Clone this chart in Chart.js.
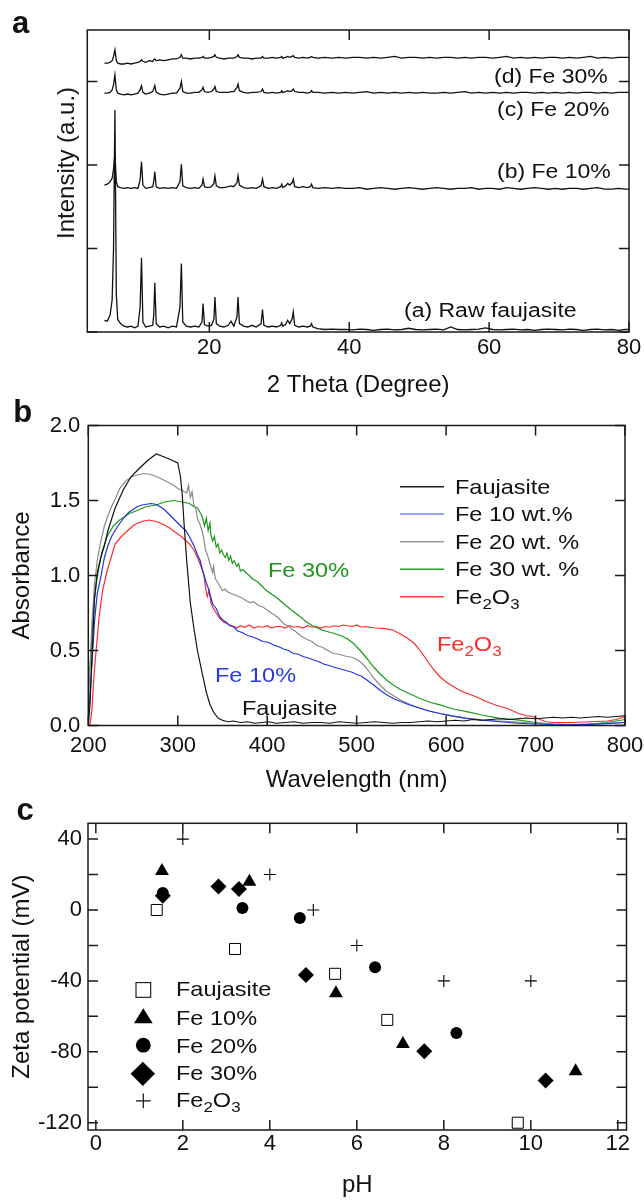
<!DOCTYPE html>
<html><head><meta charset="utf-8">
<script src="https://cdn.jsdelivr.net/npm/chart.js@4.4.1/dist/chart.umd.min.js"></script>
<style>
html,body{margin:0;padding:0;background:#fff;}
#page{position:relative;width:644px;height:1201px;overflow:hidden;font-family:'Liberation Sans',Arial,sans-serif;color:#111;}
#page canvas{position:absolute;left:0;}
.t{position:absolute;line-height:1;white-space:nowrap;transform-origin:0 0;}
.a20{font-size:20px;transform:scaleX(1.15);}
.a21{font-size:21px;transform:scaleX(1.12);}
.lt{font-size:31px;font-weight:bold;}
.s{font-size:72%;vertical-align:-0.3em;line-height:1;}
</style></head><body><div id="page">
<canvas id="ca" width="644" height="400" style="top:0px;width:644px;height:400px"></canvas>
<canvas id="cb" width="644" height="400" style="top:400px;width:644px;height:400px"></canvas>
<canvas id="cc" width="644" height="401" style="top:800px;width:644px;height:401px"></canvas>

<div class="t lt" style="left:12px;top:6.8px">a</div>
<div class="t lt" style="left:13.3px;top:395.5px">b</div>
<div class="t lt" style="left:16.4px;top:793.8px">c</div>

<div class="t a20" style="left:494px;top:66.4px">(d) Fe 30%</div>
<div class="t a20" style="left:496.7px;top:99.1px">(c) Fe 20%</div>
<div class="t a20" style="left:497px;top:161.4px">(b) Fe 10%</div>
<div class="t a20" style="left:404px;top:299.8px">(a) Raw faujasite</div>
<div class="t" style="left:65.6px;top:163.3px;font-size:24px;transform-origin:50% 50%;transform:translate(-50%,-50%) rotate(-90deg);">Intensity (a.u.)</div>

<div class="t a21" style="left:455px;top:475.5px">Faujasite</div>
<div class="t a21" style="left:455px;top:503.2px">Fe 10 wt.%</div>
<div class="t a21" style="left:455px;top:530.5px">Fe 20 wt. %</div>
<div class="t a21" style="left:455px;top:558.2px">Fe 30 wt. %</div>
<div class="t a21" style="left:455px;top:585.5px">Fe<span class="s">2</span>O<span class="s">3</span></div>

<div class="t a21" style="left:268.3px;top:558.9px;color:#1e961e">Fe 30%</div>
<div class="t a21" style="left:436.7px;top:633.2px;color:#ff2a2a">Fe<span class="s">2</span>O<span class="s">3</span></div>
<div class="t a21" style="left:215px;top:663.9px;color:#2a3ae0">Fe 10%</div>
<div class="t a21" style="left:241.7px;top:697.2px">Faujasite</div>

<div class="t a21" style="left:175.7px;top:978.2px">Faujasite</div>
<div class="t a21" style="left:175.7px;top:1007.2px">Fe 10%</div>
<div class="t a21" style="left:175.7px;top:1034.5px">Fe 20%</div>
<div class="t a21" style="left:175.7px;top:1062.2px">Fe 30%</div>
<div class="t a21" style="left:175.7px;top:1088.9px">Fe<span class="s">2</span>O<span class="s">3</span></div>

<svg width="644" height="1201" style="position:absolute;left:0;top:0;pointer-events:none">
  <g stroke-width="1.5">
    <line x1="400" y1="486.7" x2="444" y2="486.7" stroke="#222"/>
    <line x1="400" y1="514" x2="444" y2="514" stroke="#7088e8"/>
    <line x1="400" y1="541.7" x2="444" y2="541.7" stroke="#999"/>
    <line x1="400" y1="569.3" x2="444" y2="569.3" stroke="#22a022"/>
    <line x1="400" y1="596.7" x2="444" y2="596.7" stroke="#ff4040"/>
  </g>
  <rect x="136" y="982.6" width="14.7" height="14.7" fill="#fff" stroke="#111" stroke-width="1.1"/>
  <polygon points="143.3,1008.3 152.7,1023.3 134,1023.3" fill="#000"/>
  <circle cx="143.3" cy="1045.2" r="7.4" fill="#000"/>
  <polygon points="142.8,1061.7 155,1073.8 142.8,1086 130.6,1073.8" fill="#000"/>
  <path d="M136 1100.8 H150.7 M143.3 1093.4 V1108.2" stroke="#111" stroke-width="1.2"/>
</svg>
</div>
<script>
// ---------- Panel a: XRD ----------
const xrd2Theta = [5.0,5.4,5.8,6.1,6.3,6.5,6.7,6.9,7.3,7.8,
 8.3,8.8,9.3,9.8,10.1,10.3,10.5,10.9,11.4,11.9,
 12.05,12.2,12.4,12.9,13.5,14.1,14.7,15.3,15.8,16.0,
 16.2,16.7,17.3,17.9,18.5,18.95,19.1,19.3,19.8,20.3,
 20.65,20.8,21.0,21.5,22.1,22.7,23.1,23.5,23.95,24.1,
 24.3,24.9,25.5,26.1,26.7,27.4,27.6,27.8,28.4,29.0,
 29.6,30.2,30.35,30.5,30.9,31.2,31.5,31.85,32.0,32.2,
 32.8,33.4,34.0,34.45,34.6,34.8,35.5,36.5,37.5,38.5,
 39.5,40.5,41.5,42.5,43.5,44.5,45.5,46.5,47.5,48.5,
 49.5,50.5,51.5,52.5,53.5,54.5,55.5,56.5,57.5,58.5,
 59.5,60.5,61.5,62.5,63.5,64.5,65.5,66.5,67.5,68.5,
 69.5,70.5,71.5,72.5,73.5,74.5,75.5,76.5,77.5,78.5,
 79.5,80];
const xrdRaw = [0.14,0.13,0.2,0.38,1.0,2.66,0.45,0.15,0.1,0.07,
 0.06,0.07,0.05,0.07,0.3,0.89,0.12,0.06,0.07,0.08,
 0.2,0.59,0.1,0.06,0.07,0.05,0.07,0.06,0.3,0.82,
 0.12,0.07,0.06,0.07,0.06,0.12,0.34,0.09,0.07,0.08,
 0.15,0.42,0.1,0.07,0.06,0.08,0.13,0.07,0.18,0.42,
 0.1,0.07,0.06,0.08,0.06,0.1,0.27,0.08,0.06,0.07,
 0.06,0.08,0.11,0.07,0.09,0.14,0.1,0.16,0.24,0.08,
 0.06,0.07,0.06,0.07,0.1,0.06,0.04,0.03,0.035,0.03,
 0.03,0.025,0.035,0.03,0.02,0.03,0.035,0.025,0.03,0.045,
 0.03,0.025,0.03,0.035,0.025,0.06,0.03,0.025,0.03,0.035,
 0.05,0.03,0.025,0.03,0.035,0.025,0.03,0.02,0.03,0.035,
 0.03,0.025,0.035,0.03,0.02,0.03,0.035,0.025,0.03,0.02,
 0.03,0.03];
const xrdFe10 = [1.76,1.77,1.8,1.84,1.95,2.14,1.8,1.74,1.73,1.72,
 1.73,1.72,1.73,1.72,1.82,2.04,1.76,1.72,1.73,1.74,
 1.8,1.92,1.74,1.72,1.73,1.72,1.73,1.72,1.8,2.01,
 1.75,1.73,1.72,1.73,1.72,1.76,1.83,1.74,1.73,1.74,
 1.78,1.87,1.75,1.73,1.73,1.74,1.75,1.74,1.79,1.87,
 1.76,1.73,1.72,1.73,1.72,1.75,1.83,1.74,1.72,1.73,
 1.72,1.74,1.77,1.73,1.75,1.78,1.76,1.79,1.83,1.74,
 1.73,1.74,1.73,1.74,1.77,1.73,1.72,1.73,1.72,1.73,
 1.72,1.72,1.73,1.71,1.72,1.73,1.72,1.71,1.72,1.73,
 1.72,1.71,1.72,1.73,1.72,1.71,1.72,1.72,1.73,1.71,
 1.72,1.72,1.71,1.73,1.72,1.71,1.72,1.73,1.72,1.71,
 1.72,1.71,1.72,1.72,1.71,1.72,1.73,1.71,1.71,1.72,
 1.71,1.71];
const xrdFe20 = [2.86,2.86,2.87,2.9,2.96,3.08,2.9,2.86,2.85,2.84,
 2.85,2.84,2.85,2.86,2.9,2.95,2.87,2.85,2.86,2.88,
 2.91,2.95,2.87,2.85,2.84,2.85,2.86,2.86,2.92,3.0,
 2.88,2.86,2.86,2.87,2.87,2.9,2.93,2.88,2.87,2.88,
 2.91,2.94,2.88,2.87,2.87,2.87,2.88,2.88,2.93,2.97,
 2.89,2.87,2.86,2.87,2.87,2.88,2.91,2.87,2.86,2.87,
 2.86,2.87,2.89,2.87,2.88,2.89,2.88,2.89,2.91,2.88,
 2.87,2.87,2.86,2.87,2.89,2.87,2.87,2.86,2.87,2.86,
 2.87,2.86,2.87,2.88,2.86,2.87,2.86,2.87,2.86,2.87,
 2.86,2.87,2.86,2.86,2.87,2.86,2.87,2.88,2.86,2.87,
 2.86,2.87,2.86,2.87,2.86,2.87,2.87,2.86,2.87,2.86,
 2.87,2.86,2.87,2.86,2.87,2.87,2.86,2.87,2.86,2.87,
 2.87,2.87];
const xrdFe30 = [3.22,3.22,3.23,3.25,3.3,3.38,3.25,3.22,3.21,3.21,
 3.22,3.21,3.22,3.23,3.24,3.26,3.24,3.23,3.25,3.24,
 3.26,3.27,3.25,3.26,3.25,3.26,3.27,3.27,3.29,3.32,
 3.28,3.28,3.27,3.28,3.28,3.29,3.3,3.28,3.28,3.29,
 3.3,3.32,3.29,3.28,3.27,3.28,3.28,3.28,3.3,3.32,
 3.29,3.28,3.28,3.27,3.28,3.28,3.3,3.28,3.28,3.29,
 3.28,3.29,3.3,3.28,3.29,3.3,3.29,3.3,3.31,3.29,
 3.28,3.29,3.28,3.29,3.3,3.29,3.28,3.29,3.28,3.29,
 3.28,3.29,3.29,3.28,3.29,3.28,3.29,3.3,3.28,3.29,
 3.29,3.28,3.29,3.28,3.29,3.29,3.28,3.29,3.28,3.29,
 3.29,3.28,3.29,3.3,3.28,3.29,3.28,3.29,3.28,3.29,
 3.29,3.28,3.29,3.28,3.29,3.3,3.28,3.29,3.28,3.29,
 3.29,3.29];

// ---------- Panel b: UV-vis ----------
const fauWl = [200,202,204,207,210,214,218,222,230,239,248,258,267,276,285,293,300,303,305,307,
 310,314,318,322,328,332,336,340,345,350,356,362,370,378,386,394,402,410,420,430,
 440,450,460,470,480,490,500,510,520,530,540,550,560,570,580,590,600,610,620,630,
 640,650,660,670,680,690,700,710,720,730,740,750,760,770,780,790,800];
const fauAbs = [0.0,0.15,0.45,0.85,1.02,1.12,1.2,1.3,1.45,1.57,1.66,1.72,1.77,1.81,1.79,1.77,1.75,1.66,1.54,1.35,
 1.1,0.82,0.65,0.5,0.33,0.22,0.14,0.09,0.05,0.035,0.025,0.03,0.02,0.025,0.015,0.02,0.025,0.015,0.02,0.025,
 0.015,0.02,0.02,0.015,0.025,0.02,0.015,0.02,0.025,0.02,0.015,0.02,0.02,0.025,0.03,0.025,0.03,0.035,0.03,0.04,
 0.035,0.04,0.045,0.04,0.045,0.05,0.045,0.05,0.055,0.05,0.055,0.05,0.055,0.06,0.055,0.06,0.065];
const fe10Wl = [200,202,204,207,210,214,218,222,226,232,239,245,250,255,260,265,270,275,280,285,
 290,295,300,305,309,313,318,322,325,328,332,335,339,343,347,351,354,358,362,367,
 372,378,384,390,395,401,407,413,418,424,429,435,440,446,452,458,463,469,474,480,
 489,495,500,505,511,519,526,534,541,549,560,571,582,593,608,623,640,660,680,700,
 720,740,760,780,800];
const fe10Abs = [0.05,0.2,0.4,0.7,0.88,0.99,1.12,1.2,1.26,1.32,1.38,1.42,1.44,1.46,1.47,1.475,1.48,1.475,1.46,1.44,
 1.41,1.38,1.35,1.32,1.3,1.26,1.2,1.14,1.1,1.03,0.95,0.9,0.81,0.78,0.725,0.7,0.69,0.665,0.66,0.63,
 0.62,0.6,0.59,0.575,0.56,0.555,0.537,0.525,0.51,0.5,0.48,0.475,0.46,0.45,0.437,0.425,0.41,0.4,0.39,0.38,
 0.365,0.355,0.34,0.33,0.305,0.27,0.235,0.203,0.18,0.16,0.135,0.115,0.095,0.08,0.062,0.048,0.035,0.025,0.015,0.01,
 0.005,0.005,0.008,0.012,0.02];
const fe20Wl = [200,202,204,207,210,214,218,222,226,231,235,242,249,255,262,269,276,283,290,296,
 300,304,307,310,312,314,316,318,320,322,325,327,329,331,333,335,337,339,340,342,
 345,348,350,353,356,360,364,368,372,377,381,385,390,395,400,406,412,418,424,431,
 437,444,450,455,462,468,474,480,489,495,500,505,510,515,520,527,534,541,549,560,
 571,582,593,608,623,640,660,680,700,720,740,760,780,800];
const fe20Abs = [0.1,0.4,0.68,0.95,1.1,1.23,1.33,1.4,1.46,1.52,1.58,1.63,1.66,1.67,1.68,1.675,1.66,1.64,1.62,1.6,
 1.58,1.57,1.56,1.55,1.6,1.52,1.56,1.47,1.45,1.38,1.34,1.3,1.25,1.17,1.14,1.1,1.06,1.02,1.06,0.98,
 0.95,0.92,0.9,0.91,0.89,0.88,0.87,0.86,0.85,0.83,0.82,0.825,0.8,0.79,0.77,0.745,0.72,0.68,0.66,0.63,
 0.6,0.575,0.56,0.535,0.52,0.5,0.48,0.475,0.46,0.455,0.44,0.42,0.39,0.35,0.31,0.265,0.225,0.2,0.17,0.14,
 0.115,0.095,0.08,0.062,0.048,0.038,0.03,0.022,0.015,0.01,0.008,0.01,0.015,0.02];
const fe30Wl = [200,202,205,207,210,215,221,228,235,245,253,265,276,285,295,305,313,318,322,326,
 328,330,332,334,336,337,339,341,343,345,347,349,351,353,355,357,359,361,363,366,
 368,370,373,376,380,384,389,394,399,404,410,418,427,437,444,452,462,474,482,489,
 496,504,511,519,526,534,541,549,560,571,582,593,608,623,640,660,680,700,720,740,
 760,780,800];
const fe30Abs = [0.35,0.39,0.7,0.85,0.99,1.15,1.26,1.33,1.37,1.41,1.43,1.46,1.47,1.49,1.5,1.49,1.48,1.46,1.45,1.41,
 1.38,1.33,1.38,1.3,1.35,1.27,1.23,1.26,1.19,1.21,1.15,1.17,1.14,1.12,1.15,1.1,1.13,1.08,1.1,1.06,
 1.08,1.03,1.04,1.02,1.0,0.975,0.96,0.93,0.9,0.88,0.855,0.815,0.77,0.725,0.69,0.66,0.635,0.615,0.6,0.58,
 0.55,0.5,0.45,0.39,0.345,0.3,0.27,0.24,0.21,0.18,0.155,0.137,0.11,0.092,0.07,0.048,0.037,0.02,0.01,0.005,
 0.01,0.02,0.04];
const fe2o3Wl = [200,202,204,206,208,212,216,221,226,230,237,244,252,260,268,276,284,290,297,304,
 313,318,322,326,329,331,333,335,337,339,343,347,351,355,358,362,366,370,375,380,
 385,390,395,400,405,410,415,420,425,430,435,440,445,450,455,460,465,470,475,480,
 485,490,495,500,505,510,515,520,530,541,549,556,564,571,578,585,593,600,608,615,
 623,634,645,656,668,681,690,697,705,712,720,740,760,780,790,800];
const fe2o3Abs = [0.0,0.01,0.1,0.3,0.45,0.72,0.9,1.03,1.13,1.21,1.26,1.3,1.34,1.36,1.37,1.36,1.34,1.32,1.29,1.26,
 1.21,1.17,1.12,1.06,1.01,0.92,0.86,0.9,0.82,0.79,0.75,0.715,0.69,0.68,0.67,0.663,0.65,0.665,0.655,0.67,
 0.65,0.66,0.655,0.665,0.65,0.66,0.66,0.65,0.665,0.655,0.66,0.65,0.665,0.655,0.66,0.65,0.66,0.655,0.665,0.66,
 0.67,0.665,0.66,0.67,0.655,0.66,0.655,0.65,0.648,0.635,0.61,0.585,0.55,0.5,0.44,0.38,0.325,0.29,0.26,0.235,
 0.215,0.19,0.16,0.135,0.115,0.08,0.065,0.06,0.04,0.025,0.02,0.02,0.025,0.03,0.04,0.06];

// ---------- Panel c: zeta potential ----------
const fauPH = [1.4, 3.2, 5.5, 6.7, 9.7];
const fauZeta = [0, -22, -36, -62, -120];
const fe10PH = [1.52, 3.53, 5.52, 7.06, 11.03];
const fe10Zeta = [22, 16, -47, -75.6, -91];
const fe20PH = [1.54, 3.37, 4.69, 6.42, 8.29];
const fe20Zeta = [9.6, 1.1, -4.5, -32.3, -69.4];
const fe30PH = [1.54, 2.82, 3.29, 4.83, 7.55, 10.34];
const fe30Zeta = [8.1, 13.2, 11.9, -36.7, -79.7, -96.2];
const fe2o3PH = [2, 4, 5, 6, 8, 10];
const fe2o3Zeta = [40, 20, 0, -20, -40, -40];

// ---------- helpers ----------
const FONT = "'Liberation Sans', Arial, sans-serif";
const pts = (xs, ys) => xs.map((x, i) => ({x: x, y: ys[i]}));
const line = (xs, ys, color, w) => ({data: pts(xs, ys), borderColor: color, borderWidth: w, pointRadius: 0, fill: false, tension: 0});

const frame = {
  id: 'frame',
  afterDatasetsDraw(chart) {
    const {ctx, chartArea: a, scales: {x, y}} = chart;
    const L = 10;
    ctx.save();
    ctx.strokeStyle = '#1a1a1a';
    ctx.lineWidth = 1.5;
    ctx.beginPath();
    x.ticks.forEach(t => { const p = x.getPixelForValue(t.value);
      ctx.moveTo(p, a.bottom); ctx.lineTo(p, a.bottom - L);
      ctx.moveTo(p, a.top); ctx.lineTo(p, a.top + L); });
    y.ticks.forEach(t => { const p = y.getPixelForValue(t.value);
      ctx.moveTo(a.left, p); ctx.lineTo(a.left + L, p);
      ctx.moveTo(a.right, p); ctx.lineTo(a.right - L, p); });
    ctx.stroke();
    ctx.strokeRect(a.left, a.top, a.right - a.left, a.bottom - a.top);
    ctx.restore();
  }
};

function axisX(min, max, step, pad, title, height, cb) {
  return {type: 'linear', position: 'bottom', min: min, max: max,
    grid: {display: false, drawTicks: false}, border: {display: false},
    ticks: {stepSize: step, includeBounds: false, padding: pad, color: '#111', autoSkip: false, maxRotation: 0,
      font: {size: 22, family: FONT}, callback: cb || (v => String(v))},
    title: {display: true, text: title, color: '#111', font: {size: 24, family: FONT}, padding: 0},
    afterFit(s) { s.height = height; s.paddingLeft = 0; s.paddingRight = 0; }};
}
function axisY(min, max, step, pad, title, titlePad, width, cb, show) {
  return {type: 'linear', position: 'left', min: min, max: max,
    grid: {display: false, drawTicks: false}, border: {display: false},
    ticks: {display: show, stepSize: step, includeBounds: false, padding: pad, color: '#111', autoSkip: false,
      font: {size: 22, family: FONT}, callback: cb || (v => String(v))},
    title: {display: !!title, text: title, color: '#111', font: {size: 24, family: FONT}, padding: {top: titlePad, bottom: 0}},
    afterFit(s) { s.width = width; s.paddingTop = 0; s.paddingBottom = 0; }};
}
function baseOpts(padding, scales) {
  return {responsive: false, animation: false, devicePixelRatio: 1, events: [],
    layout: {padding: padding},
    plugins: {legend: {display: false}, tooltip: {enabled: false}},
    scales: scales};
}

// Panel a
new Chart(document.getElementById('ca'), {
  type: 'line',
  data: {datasets: [
    line(xrd2Theta, xrdRaw, '#111', 1.3),
    line(xrd2Theta, xrdFe10, '#111', 1.3),
    line(xrd2Theta, xrdFe20, '#111', 1.3),
    line(xrd2Theta, xrdFe30, '#111', 1.3)
  ]},
  options: baseOpts({left: 0, right: 15, top: 30, bottom: 0.6}, {
    x: axisX(2.55, 80, 20, 3, '2 Theta (Degree)', 67.4),
    y: axisY(0, 3.617, 1, 0, '', 0, 87.3, null, false)
  }),
  plugins: [frame]
});

// Panel b
new Chart(document.getElementById('cb'), {
  type: 'line',
  data: {datasets: [
    line(fauWl, fauAbs, '#111', 1.2),
    line(fe10Wl, fe10Abs, '#1f35e0', 1.2),
    line(fe20Wl, fe20Abs, '#8a8a8a', 1.2),
    line(fe30Wl, fe30Abs, '#1a9a1a', 1.2),
    line(fe2o3Wl, fe2o3Abs, '#ff2a2a', 1.2)
  ]},
  options: baseOpts({left: 0, right: 19, top: 25.5, bottom: 5}, {
    x: axisX(200, 800, 100, 7, 'Wavelength (nm)', 69.5),
    y: axisY(0, 2, 0.5, 8, 'Absorbance', 7.6, 88.3, v => v.toFixed(1), true)
  }),
  plugins: [frame]
});

// Panel c
const sc = (xs, ys, style, r, fill, bw) => ({data: pts(xs, ys), showLine: false, pointStyle: style, pointRadius: r,
  pointBackgroundColor: fill, pointBorderColor: '#000', pointBorderWidth: bw});
new Chart(document.getElementById('cc'), {
  type: 'scatter',
  data: {datasets: [
    sc(fauPH, fauZeta, 'rect', 7.8, '#fff', 1),
    sc(fe10PH, fe10Zeta, 'triangle', 8, '#000', 0),
    sc(fe20PH, fe20Zeta, 'circle', 6, '#000', 0),
    sc(fe30PH, fe30Zeta, 'rectRot', 8, '#000', 0),
    sc(fe2o3PH, fe2o3Zeta, 'cross', 6, '#000', 1.1)
  ]},
  options: baseOpts({left: 0, right: 17.5, top: 23.3, bottom: 1.6}, {
    x: axisX(-0.18, 12.2, 2, 1, 'pH', 69.4),
    y: axisY(-124.1, 48.9, 20, 6, 'Zeta potential (mV)', 8.3, 88, v => (v % 40 === 0 ? String(v) : ''), true)
  }),
  plugins: [frame]
});
</script>
</body></html>
